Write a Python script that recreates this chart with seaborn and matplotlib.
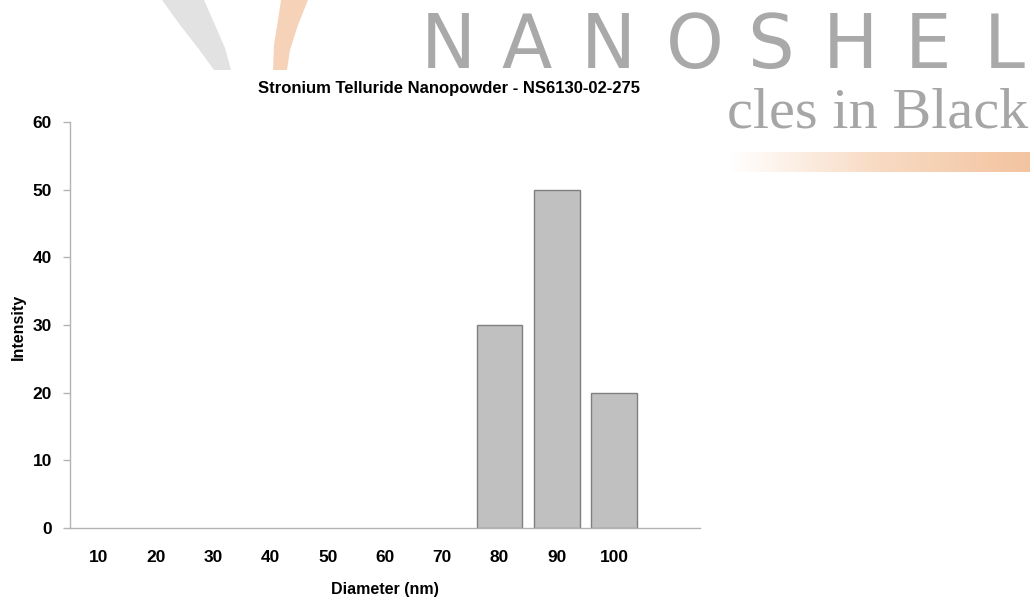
import numpy as np
import pandas as pd
import matplotlib
matplotlib.use('Agg')
import matplotlib.pyplot as plt
from matplotlib.patches import Polygon
import seaborn as sns

# Data
diameter = ['10', '20', '30', '40', '50', '60', '70', '80', '90', '100', '']
intensity = [0, 0, 0, 0, 0, 0, 0, 30, 50, 20, 0]
title = 'Stronium Telluride Nanopowder - NS6130-02-275'

df = pd.DataFrame({'Diameter': diameter, 'Intensity': intensity})

sns.set_style('white')
plt.rcParams['font.family'] = ['Liberation Sans', 'DejaVu Sans']
plt.rcParams['text.color'] = 'black'
plt.rcParams['axes.labelcolor'] = 'black'
plt.rcParams['xtick.labelcolor'] = 'black'
plt.rcParams['ytick.labelcolor'] = 'black'

fig = plt.figure(figsize=(10.34, 6.01), dpi=100)
W, H = 1034, 601


def px(x, y):
    return (x / W, 1 - y / H)


# Watermark logo behind the chart
fig.patches.append(Polygon([px(162, 0), px(204, 0), px(215, 25), px(225, 48), px(231, 70),
                            px(214, 70), px(198, 48), px(180, 25)],
                           closed=True, transform=fig.transFigure, facecolor='#e2e2e2', edgecolor='none', zorder=0))
fig.patches.append(Polygon([px(281, 0), px(308, 0), px(298, 25), px(290, 50), px(287, 70),
                            px(273, 70), px(274, 45), px(278, 20)],
                           closed=True, transform=fig.transFigure, facecolor='#f6d3b8', edgecolor='none', zorder=0))
logo_letters = 'NANOSHEL'
logo_x = [448, 527, 608, 695, 771, 850, 928, 1004]
for ch, lx in zip(logo_letters, logo_x):
    fig.text(lx / W, 1 - 68 / H, ch, ha='center', va='baseline', fontsize=53, color='#a9a9a9',
             family='DejaVu Sans', zorder=0)
fig.text(1 - 6 / W, 1 - 127 / H, 'cles in Black', ha='right', va='baseline', fontsize=42, color='#a6a6a6',
         family='Liberation Serif', zorder=0)
grad_ax = fig.add_axes([730 / W, 1 - 172 / H, 300 / W, 20 / H], zorder=0)
grad = np.linspace(0, 1, 256).reshape(1, -1)
cmap = matplotlib.colors.LinearSegmentedColormap.from_list('o', ['#ffffff', '#f8dac2', '#f3c4a0'])
grad_ax.imshow(grad, aspect='auto', cmap=cmap)
grad_ax.axis('off')

# Chart
ax = fig.add_axes([70 / W, 1 - 528 / H, 630 / W, 406 / H], zorder=2)
ax.patch.set_alpha(0)
sns.barplot(data=df, x='Diameter', y='Intensity', order=diameter, color='#c0c0c0',
            edgecolor='#7f7f7f', linewidth=1.0, width=0.8, saturation=1, ax=ax)
for p in ax.patches:
    if p.get_height() == 0:
        p.set_visible(False)

ax.set_ylim(0, 60)
ax.set_xlim(-0.5, len(diameter) - 0.5)
ax.set_yticks(range(0, 61, 10))
for s in ['top', 'right']:
    ax.spines[s].set_visible(False)
for s in ['left', 'bottom']:
    ax.spines[s].set_color('#b3b3b3')
    ax.spines[s].set_linewidth(1.0)
ax.tick_params(axis='y', left=True, length=5, width=1, color='#b3b3b3', pad=8, labelsize=12.5)
ax.tick_params(axis='x', bottom=False, length=0, pad=16, labelsize=12.5)
for lab in ax.get_xticklabels() + ax.get_yticklabels():
    lab.set_fontweight('bold')
ax.set_xlabel('Diameter (nm)', fontsize=11.5, fontweight='bold')
ax.set_ylabel('Intensity', fontsize=11.5, fontweight='bold')
ax.xaxis.set_label_coords(0.5, (528 - 582) / 406)
ax.yaxis.set_label_coords((26 - 70) / 630, (528 - 327) / 406)
fig.text(449 / W, 1 - 88 / H, title, ha='center', va='center', fontsize=12, fontweight='bold')

fig.savefig('out.png', dpi=100, facecolor='white')
